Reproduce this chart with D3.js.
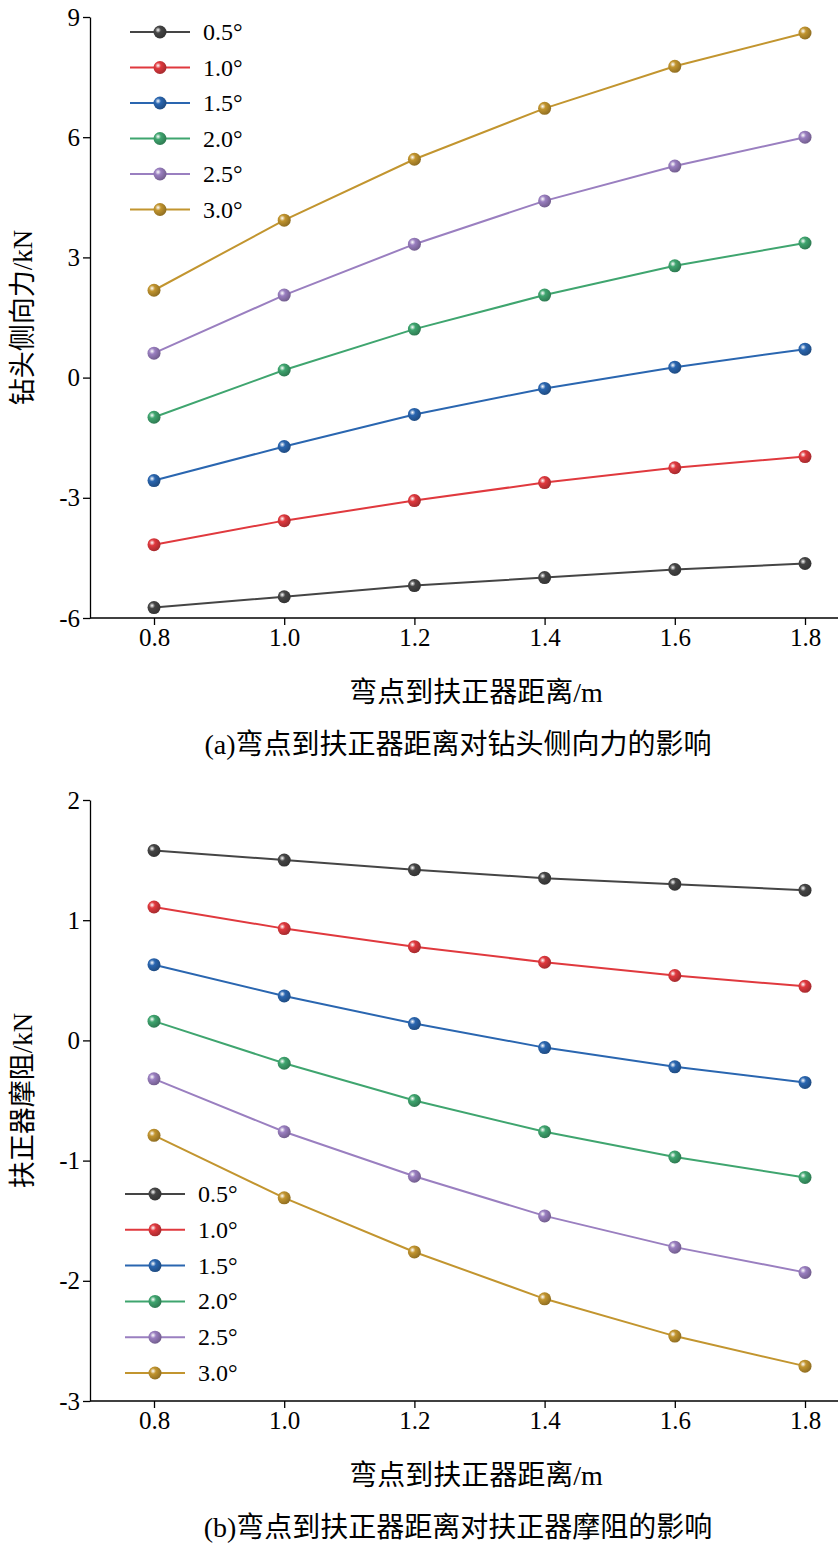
<!DOCTYPE html><html><head><meta charset="utf-8">
<script src="https://cdn.jsdelivr.net/npm/d3@7/dist/d3.min.js"></script>
<style>body{margin:0;background:#fff}text{font-family:"Liberation Serif","Noto Sans CJK SC",serif}</style></head><body>
<svg id="c" width="839" height="1553"></svg>
<script>
const xs=[0.8,1.0,1.2,1.4,1.6,1.8];
const series=["0.5°","1.0°","1.5°","2.0°","2.5°","3.0°"];
const colors=["#454545","#e0393e","#2a66b0","#3fa56f","#9a7fc0","#c2952f"];
const forceA=[[-5.74,-5.47,-5.19,-4.99,-4.79,-4.64],[-4.17,-3.57,-3.07,-2.62,-2.25,-1.97],[-2.57,-1.72,-0.92,-0.27,0.26,0.71],[-0.99,0.19,1.21,2.06,2.79,3.36],[0.61,2.06,3.33,4.41,5.28,6.0],[2.18,3.93,5.45,6.72,7.77,8.6]];
const fricB=[[1.58,1.50,1.42,1.35,1.30,1.25],[1.11,0.93,0.78,0.65,0.54,0.45],[0.63,0.37,0.14,-0.06,-0.22,-0.35],[0.16,-0.19,-0.50,-0.76,-0.97,-1.14],[-0.32,-0.76,-1.13,-1.46,-1.72,-1.93],[-0.79,-1.31,-1.76,-2.15,-2.46,-2.71]];
const ticksA=[-6,-3,0,3,6,9], ticksB=[-3,-2,-1,0,1,2];
const xTicks=[0.8,1.0,1.2,1.4,1.6,1.8];
const svg=d3.select("#c");
const defs=svg.append("defs");
colors.forEach((c,i)=>{const g=defs.append("radialGradient").attr("id","g"+i).attr("cx","35%").attr("cy","35%").attr("r","65%");
g.append("stop").attr("offset","0%").attr("stop-color","#fff");g.append("stop").attr("offset","35%").attr("stop-color",c);g.append("stop").attr("offset","100%").attr("stop-color",d3.color(c).darker(0.8));});
function chart(o){
 const x=d3.scaleLinear().domain([0.8,1.8]).range([154,805]);
 const y=d3.scaleLinear().domain(o.dom).range([o.bot,o.top]);
 const g=svg.append("g");
 g.append("g").attr("transform",`translate(0,${o.bot})`).call(d3.axisBottom(x).tickValues(xTicks).tickFormat(d3.format(".1f")).tickSize(7).tickSizeOuter(0))
  .call(a=>a.select(".domain").attr("d",`M90,0H838`));
 g.append("g").attr("transform",`translate(90,0)`).call(d3.axisLeft(y).tickValues(o.ticks).tickFormat(d=>d).tickSize(7).tickSizeOuter(0));
 g.selectAll(".tick text").attr("font-size",25).attr("fill","#000");
 g.selectAll(".domain,.tick line").attr("stroke","#000").attr("stroke-width",1.3);
 const line=d3.line().x((d,i)=>x(xs[i])).y(d=>y(d));
 o.data.forEach((s,i)=>{
  g.append("path").attr("d",line(s)).attr("fill","none").attr("stroke",colors[i]).attr("stroke-width",2);
  g.selectAll(null).data(s).enter().append("circle").attr("cx",(d,j)=>x(xs[j])).attr("cy",d=>y(d)).attr("r",6.5).attr("fill",`url(#g${i})`);
 });
 series.forEach((s,i)=>{const ly=o.ly+i*o.ls;
  g.append("line").attr("x1",o.lx).attr("x2",o.lx+60).attr("y1",ly).attr("y2",ly).attr("stroke",colors[i]).attr("stroke-width",2);
  g.append("circle").attr("cx",o.lx+30).attr("cy",ly).attr("r",6.5).attr("fill",`url(#g${i})`);
  g.append("text").attr("x",o.lx+73).attr("y",ly+8).attr("font-size",24).text(s);});
 g.append("text").attr("transform",`translate(32,${(o.top+o.bot)/2}) rotate(-90)`).attr("text-anchor","middle").attr("font-size",27).text(o.ylab);
 g.append("text").attr("x",476).attr("y",o.bot+84).attr("text-anchor","middle").attr("font-size",28).text("弯点到扶正器距离/m");
 g.append("text").attr("x",458).attr("y",o.bot+136).attr("text-anchor","middle").attr("font-size",28).text(o.cap);
}
chart({dom:[-6,9],top:17,bot:618,ticks:ticksA,data:forceA,lx:130,ly:32,ls:35.5,ylab:"钻头侧向力/kN",cap:"(a)弯点到扶正器距离对钻头侧向力的影响"});
chart({dom:[-3,2],top:800,bot:1401,ticks:ticksB,data:fricB,lx:125,ly:1194,ls:35.8,ylab:"扶正器摩阻/kN",cap:"(b)弯点到扶正器距离对扶正器摩阻的影响"});
</script></body></html>
